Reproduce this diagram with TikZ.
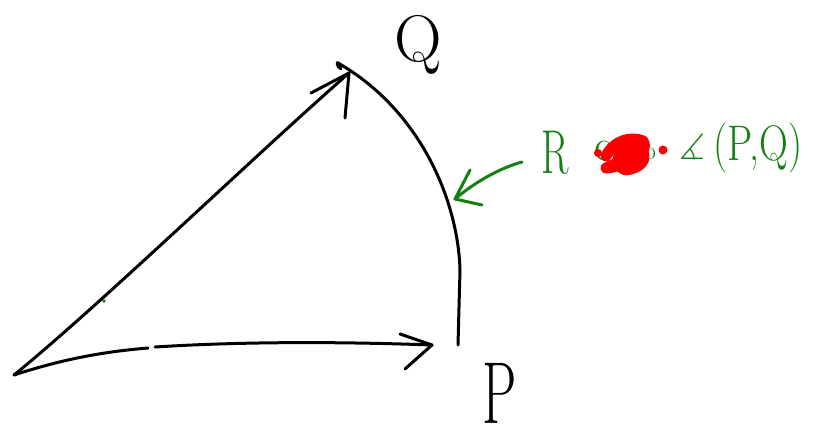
\documentclass[tikz,border=0pt]{standalone}
\usepackage{amssymb}
\definecolor{pen}{RGB}{0,0,0}
\definecolor{gpen}{RGB}{20,128,20}
\definecolor{rpen}{RGB}{250,0,0}
\tikzset{
  ink/.style={draw=pen,line width=3pt,line cap=round,line join=round},
  gink/.style={draw=gpen,line width=3pt,line cap=round,line join=round},
  rink/.style={draw=rpen,line width=11pt,line cap=round,line join=round},
  lbl/.style={inner sep=0pt,text=pen},
  glbl/.style={inner sep=0pt,text=gpen},
}
\begin{document}
\begin{tikzpicture}[x=1pt,y=-1pt]
\useasboundingbox (0,0) rectangle (817,444);
% points
\coordinate (O) at (14,375);
\coordinate (Pt) at (432,345);
\coordinate (Qt) at (349,73);
\coordinate (Qs) at (338,63);
\coordinate (Pe) at (458,345);
\coordinate (Ga) at (522,162);
\coordinate (Gt) at (455,199);
% labels
\node[lbl] (Q) at (418,45) {\fontsize{66}{66}\selectfont Q};
\node[lbl] (P) at (500,393) {\scalebox{0.62}[1]{\fontsize{88}{88}\selectfont P}};
% lower vector
\draw[ink] (O) .. controls (60,360) and (100,352) .. (148,348);
\draw[ink] (155,347) .. controls (250,341) and (350,342) .. (Pt);
\draw[ink] (400,334) -- (Pt) -- (405,369);
% upper vector
\draw[ink] (O) .. controls (100,305) and (250,160) .. (Qt);
\draw[ink] (311,93) -- (Qt) -- (345,118);
% arc
\draw[ink] (341,69) .. controls (336,66) and (337,61) .. (Qs) .. controls (420,110) and (458,200) .. (460,270) -- (Pe);
% green dot
\fill[gpen] (104,301) circle (1.8);
% green arrow
\draw[gink] (Ga) .. controls (500,168) and (475,182) .. (Gt);
\draw[gink] (470,170) -- (Gt) -- (482,205);
% green text
\node[glbl] (R) at (555,153) {\scalebox{0.65}[1]{\fontsize{62}{62}\selectfont R}};
\node[glbl] (c) at (603,151) {\fontsize{44}{44}\selectfont c};
\node[glbl] (o) at (650,154) {\fontsize{26}{26}\selectfont o};
\node[glbl] (ang) at (692,147) {\fontsize{36}{36}\selectfont$\measuredangle$};
\node[glbl] (PQ) at (758,148) {\scalebox{0.8}[1]{\fontsize{50}{50}\selectfont (P,Q)}};
% red scribble
\draw[rink] (606,156) .. controls (614,140) and (632,136) .. (643,141)
  .. controls (650,150) and (632,166) .. (606,168) .. controls (624,160) and (642,152) .. (632,146)
  .. controls (620,150) and (610,164) .. (626,170) .. controls (640,168) and (648,160) .. (642,150);
\fill[rpen] (598,153) circle (4);
\fill[rpen] (663,150) circle (4.5);
\end{tikzpicture}
\end{document}
